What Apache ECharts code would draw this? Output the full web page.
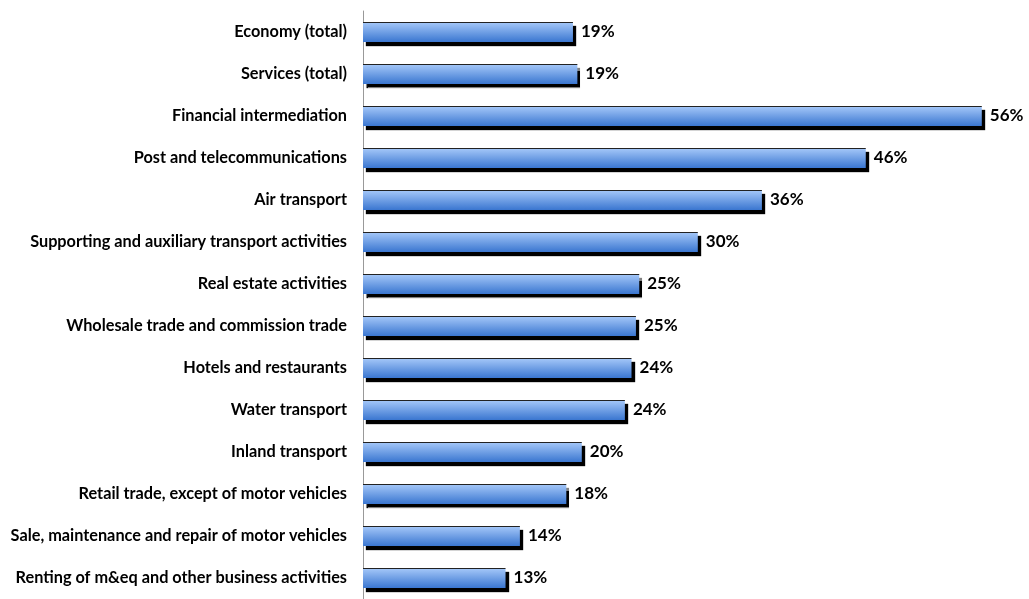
<!DOCTYPE html>
<html><head><meta charset="utf-8">
<script src="https://cdn.jsdelivr.net/npm/echarts@6/dist/echarts.min.js"></script>
<style>html,body{margin:0;padding:0;background:#fff}#c{width:1029px;height:599px}</style>
</head><body><div id="c"></div>
<script>
var categories = ["Economy (total)","Services (total)","Financial intermediation","Post and telecommunications","Air transport","Supporting and auxiliary transport activities","Real estate activities","Wholesale trade and commission trade","Hotels and restaurants","Water transport","Inland transport","Retail trade, except of motor vehicles","Sale, maintenance and repair of motor vehicles","Renting of m&eq and other business activities"];
var values = [19.0, 19.4, 56.0, 45.5, 36.1, 30.3, 25.0, 24.7, 24.3, 23.7, 19.8, 18.4, 14.2, 12.9];
var chart = echarts.init(document.getElementById('c'));
chart.setOption({
  animation:false,
  grid:{left:363,right:3,top:11,bottom:-6,containLabel:false},
  xAxis:{type:'value',min:0,max:60,show:false},
  yAxis:{type:'category',data:categories,inverse:true,
    axisLine:{show:true,lineStyle:{color:'#999',width:1}},
    axisTick:{show:false},
    axisLabel:{margin:16,color:'#000',fontWeight:'bold',fontSize:16.3,fontFamily:'Lato'}},
  series:[{type:'bar',data:values,barWidth:20,
    itemStyle:{
      color:new echarts.graphic.LinearGradient(0,0,0,1,[
        {offset:0,color:'#222'},{offset:0.05,color:'#222'},
        {offset:0.06,color:'#a0c4f7'},{offset:1,color:'#3a76d0'}]),
      borderWidth:0,
      shadowColor:'rgba(0,0,0,1)',shadowOffsetX:3,shadowOffsetY:4,shadowBlur:1},
    label:{show:true,position:'right',distance:8,color:'#000',fontWeight:'bold',fontSize:17,fontFamily:'Lato',
      formatter:function(p){return Math.round(p.value)+'%';}}
  }]
});
</script></body></html>
